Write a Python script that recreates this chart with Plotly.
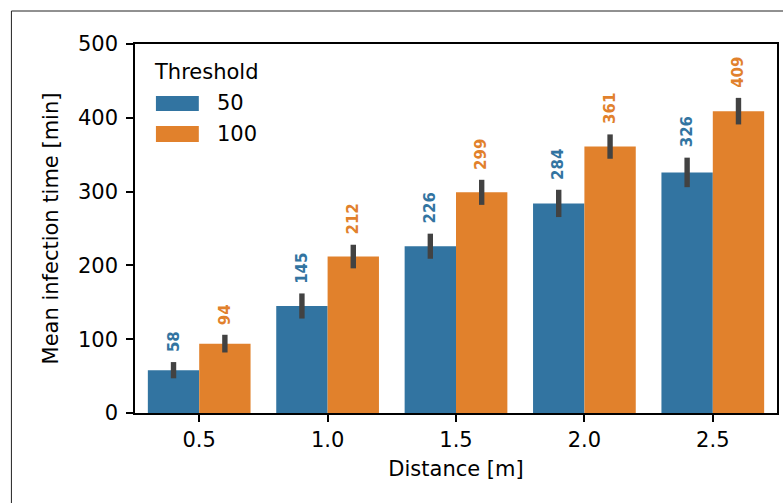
import plotly.graph_objects as go

distances = ["0.5", "1.0", "1.5", "2.0", "2.5"]
thr50 = [58, 145, 226, 284, 326]
thr100 = [94, 212, 299, 361, 409]
err50 = [11, 17, 17, 18.5, 20]
err100 = [12, 16, 17, 16.5, 18]
series_names = ["50", "100"]
colors = ["#3274a1", "#e1812c"]
errcolor = "#424242"
FONT = "DejaVu Sans"
FS = 21

xs = list(range(len(distances)))

fig = go.Figure()
for name, vals, errs, col in zip(series_names, [thr50, thr100], [err50, err100], colors):
    fig.add_trace(go.Bar(
        x=xs, y=vals, name=name, marker=dict(color=col, line=dict(width=0)),
        error_y=dict(type="data", array=errs, visible=True, color=errcolor,
                     thickness=5.4, width=0),
        showlegend=False,
    ))

annotations = []
for off, vals, errs, col in [(-0.2, thr50, err50, colors[0]), (0.2, thr100, err100, colors[1])]:
    for i, (v, e) in enumerate(zip(vals, errs)):
        annotations.append(dict(
            x=i + off, y=v + e, xref="x", yref="y", text=str(v), showarrow=False,
            textangle=-90, yanchor="bottom", xanchor="center", yshift=8,
            font=dict(family=FONT, size=15, color=col, weight="bold"),
        ))

# legend (custom to match matplotlib-style patches)
annotations.append(dict(x=0.027, y=0.924, xref="paper", yref="paper", text="Threshold",
                        showarrow=False, xanchor="left", yanchor="middle",
                        font=dict(family=FONT, size=FS, color="black")))
for lbl, yc in zip(series_names, [0.840, 0.756]):
    annotations.append(dict(x=0.124, y=yc, xref="paper", yref="paper", text=lbl,
                            showarrow=False, xanchor="left", yanchor="middle",
                            font=dict(family=FONT, size=FS, color="black")))

shapes = [
    dict(type="rect", xref="paper", yref="paper", x0=0.0326, x1=0.0994, y0=0.8184, y1=0.8591,
         fillcolor=colors[0], line=dict(width=0)),
    dict(type="rect", xref="paper", yref="paper", x0=0.0326, x1=0.0994, y0=0.7344, y1=0.7778,
         fillcolor=colors[1], line=dict(width=0)),
    # figure border
    dict(type="rect", xref="paper", yref="paper", x0=-0.1925, x1=1.05, y0=-0.35, y1=1.0894,
         fillcolor="rgba(0,0,0,0)", line=dict(color="#222222", width=1)),
]

fig.update_layout(
    width=783, height=503,
    margin=dict(l=135, r=4, t=44, b=90),
    paper_bgcolor="white", plot_bgcolor="white",
    barmode="group", bargap=0.2, bargroupgap=0,
    font=dict(family=FONT, size=FS, color="black"),
    annotations=annotations, shapes=shapes,
    showlegend=False,
)
fig.update_xaxes(
    range=[-0.5, 4.5], tickmode="array", tickvals=xs, ticktext=distances,
    showline=True, linecolor="black", linewidth=1.6, mirror=True,
    ticks="outside", ticklen=7, tickwidth=1.6, tickcolor="black",
    showgrid=False, zeroline=False,
    title=dict(text="Distance [m]", font=dict(family=FONT, size=FS), standoff=10),
    tickfont=dict(family=FONT, size=FS),
)
fig.update_yaxes(
    range=[0, 500], tickvals=[0, 100, 200, 300, 400, 500],
    showline=True, linecolor="black", linewidth=1.6, mirror=True,
    ticks="outside", ticklen=7, tickwidth=1.6, tickcolor="black",
    showgrid=False, zeroline=False, ticklabelstandoff=4,
    title=dict(text="Mean infection time [min]", font=dict(family=FONT, size=FS), standoff=14),
    tickfont=dict(family=FONT, size=FS),
)

fig.write_html("out.html")
